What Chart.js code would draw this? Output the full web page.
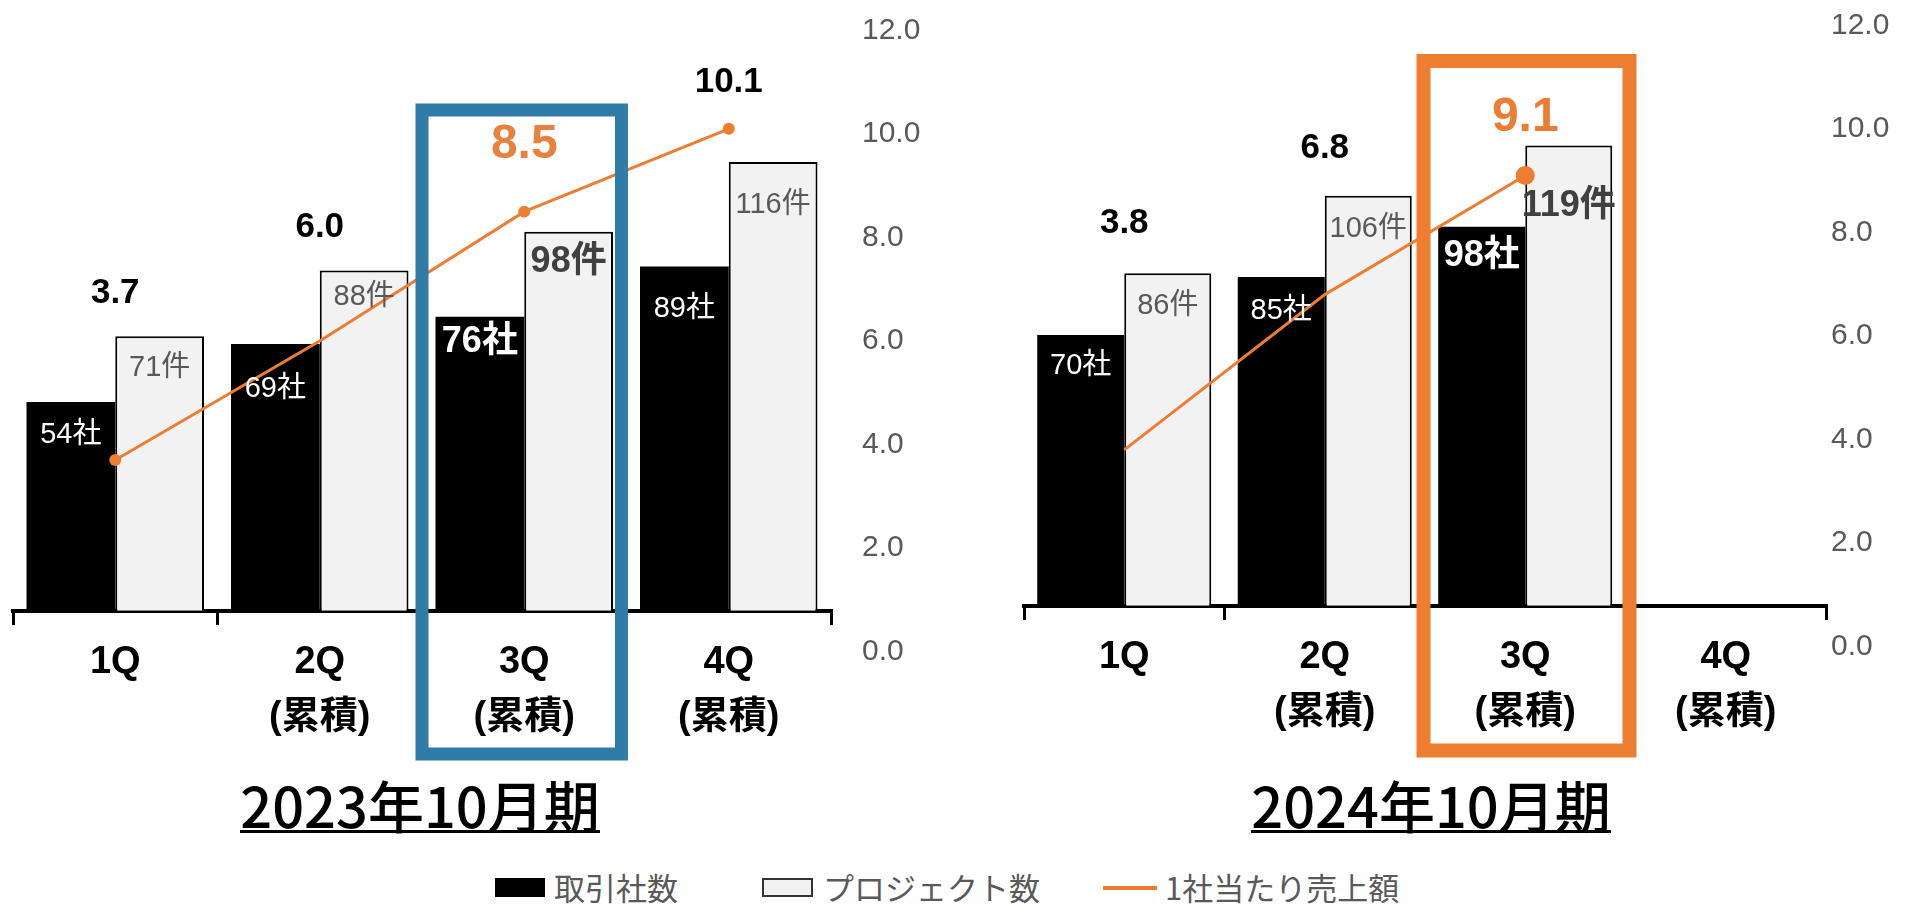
<!DOCTYPE html>
<html lang="ja">
<head>
<meta charset="utf-8">
<title>取引社数・プロジェクト数・1社当たり売上額</title>
<script src="https://cdn.jsdelivr.net/npm/chart.js@4.4.1/dist/chart.umd.min.js"></script>
<style>
    html, body { margin: 0; padding: 0; background: #fff; }
    body { width: 1916px; height: 905px; position: relative; overflow: hidden;
           font-family: "Noto Sans CJK JP", "Liberation Sans", sans-serif; }
    canvas { position: absolute; top: 0; }
    #chart2023 { left: 0; }
    #chart2024 { left: 960px; }
    .period { position: absolute; top: 776px; width: 500px; text-align: center;
              font-size: 56px; font-weight: 500; line-height: 56px; color: #000; }
    .period span { display: inline-block; position: relative; }
    .period span::after { content: ''; position: absolute; left: 0; right: 0; top: 54px; height: 3px; background: #000; }
    .swatch { position: absolute; box-sizing: border-box; }
    .legend-text { position: absolute; top: 871px; font-size: 31px; line-height: 31px; color: #595959; white-space: nowrap; }
</style>
</head>
<body>
<canvas id="chart2023" width="960" height="790"></canvas>
<canvas id="chart2024" width="956" height="790"></canvas>

<div class="period" style="left:170px"><span>2023年10月期</span></div>
<div class="period" style="left:1181px"><span>2024年10月期</span></div>

<div class="swatch" style="left:495px; top:878px; width:50px; height:19px; background:#000"></div>
<div class="legend-text" style="left:554px">取引社数</div>
<div class="swatch" style="left:762px; top:878px; width:51px; height:19px; background:#F2F2F2; border:2px solid #333"></div>
<div class="legend-text" style="left:823px">プロジェクト数</div>
<div class="swatch" style="left:1103px; top:886px; width:54px; height:4px; background:#ED7D31"></div>
<div class="legend-text" style="left:1165px">1社当たり売上額</div>

<script>
const quarterLabels = [['1Q'], ['2Q', '(累積)'], ['3Q', '(累積)'], ['4Q', '(累積)']];

const companies2023 = [54, 69, 76, 89];
const projects2023 = [71, 88, 98, 116];
const salesPerCompany2023 = [3.7, 6.0, 8.5, 10.1];

const companies2024 = [70, 85, 98, null];
const projects2024 = [86, 106, 119, null];
const salesPerCompany2024 = [3.8, 6.8, 9.1, null];

const ORANGE = '#ED7D31';
const FONT = '"Liberation Sans", "Noto Sans CJK JP", sans-serif';

Chart.defaults.font.family = FONT;

// text placement tweaks in px (below bar top / above project bar top)
const tweak2023 = { black: [33, 45, 25, 42], gray: [32, 27, 30, 43], line: [43, 43, 87, 80] };
const tweak2024 = { black: [31, 34, 29, 0], gray: [33, 33, 61, 0], line: [50, 47, 28, 0] };

function labelPlugin(cfg) {
    return {
        id: 'valueLabels',
        afterDatasetsDraw(chart) {
            const ctx = chart.ctx;
            const xScale = chart.scales.x;
            const blackBars = chart.getDatasetMeta(1).data;
            const grayBars = chart.getDatasetMeta(2).data;
            ctx.save();
            ctx.textAlign = 'center';
            ctx.textBaseline = 'middle';
            cfg.companies.forEach((v, i) => {
                if (v == null) return;
                const hi = i === cfg.highlight;
                const b = blackBars[i];
                const g = grayBars[i];

                ctx.fillStyle = '#fff';
                ctx.font = hi ? `bold 36px ${FONT}` : `29px ${FONT}`;
                ctx.fillText(v + '社', b.x, b.y + cfg.tweak.black[i]);

                ctx.fillStyle = hi ? '#404040' : '#595959';
                ctx.font = hi ? `bold 36px ${FONT}` : `29px ${FONT}`;
                ctx.fillText(cfg.projects[i] + '件', g.x, g.y + cfg.tweak.gray[i]);

                ctx.fillStyle = hi ? cfg.accent : '#000';
                ctx.font = hi ? `bold 48px ${FONT}` : `bold 35px ${FONT}`;
                ctx.fillText(cfg.sales[i].toFixed(1), xScale.getPixelForValue(i), g.y - cfg.tweak.line[i]);
            });
            ctx.restore();
        }
    };
}

function boxPlugin(cfg) {
    return {
        id: 'highlightBox',
        afterDraw(chart) {
            const ctx = chart.ctx;
            const xScale = chart.scales.x;
            const area = chart.chartArea;
            const half = (xScale.getPixelForValue(1) - xScale.getPixelForValue(0)) / 2;
            const cx = xScale.getPixelForValue(cfg.highlight);
            const left = cx - half + cfg.box.dx0;
            const right = cx + half + cfg.box.dx1;
            const top = area.top + cfg.box.top;
            const bottom = area.bottom + cfg.box.bottom;
            ctx.save();
            ctx.strokeStyle = cfg.box.color;
            ctx.lineWidth = cfg.box.width;
            ctx.strokeRect(left, top, right - left, bottom - top);
            ctx.restore();
        }
    };
}

function makeChart(canvasId, cfg) {
    const ctx = document.getElementById(canvasId).getContext('2d');
    return new Chart(ctx, {
        type: 'bar',
        data: {
            labels: quarterLabels,
            datasets: [
                {
                    type: 'line',
                    label: '1社当たり売上額',
                    data: cfg.sales,
                    yAxisID: 'y1',
                    borderColor: ORANGE,
                    backgroundColor: ORANGE,
                    borderWidth: 3,
                    pointRadius: cfg.pointRadius,
                    pointBorderWidth: 0,
                    tension: 0,
                    order: 0
                },
                {
                    label: '取引社数',
                    data: cfg.companies,
                    backgroundColor: '#000',
                    borderWidth: 0,
                    yAxisID: 'y',
                    order: 1
                },
                {
                    label: 'プロジェクト数',
                    data: cfg.projects,
                    backgroundColor: '#F2F2F2',
                    borderColor: '#000',
                    borderWidth: 2,
                    yAxisID: 'y',
                    order: 1
                }
            ]
        },
        options: {
            responsive: false,
            maintainAspectRatio: false,
            animation: false,
            layout: { padding: cfg.padding },
            datasets: { bar: { categoryPercentage: 0.868, barPercentage: 1 } },
            scales: {
                x: {
                    position: { y: 0 },
                    afterFit: s => { s.height = 0; },
                    grid: {
                        display: true,
                        drawOnChartArea: false,
                        drawTicks: true,
                        tickLength: 12,
                        offset: true,
                        color: '#000',
                        lineWidth: 3
                    },
                    border: { display: true, color: '#000', width: 4 },
                    ticks: {
                        color: '#000',
                        font: { size: 38, weight: 'bold', lineHeight: 1.45 },
                        padding: 12,
                        maxRotation: 0,
                        autoSkip: false
                    }
                },
                y: { display: false, min: -10.5, max: 150 },
                y1: {
                    position: 'right',
                    min: 0,
                    max: 12,
                    afterFit: s => {
                        s.width = cfg.axisWidth;
                        s.paddingTop = 0;
                        s.paddingBottom = 0;
                    },
                    grid: { display: false, drawTicks: false },
                    border: { display: false },
                    ticks: {
                        stepSize: 2,
                        padding: cfg.tickGap,
                        color: '#595959',
                        font: { size: 30 },
                        callback: v => v.toFixed(1)
                    }
                }
            },
            plugins: {
                legend: { display: false },
                tooltip: { enabled: false }
            }
        },
        plugins: [labelPlugin(cfg), boxPlugin(cfg)]
    });
}

document.addEventListener('DOMContentLoaded', function() {
    makeChart('chart2023', {
        companies: companies2023,
        projects: projects2023,
        sales: salesPerCompany2023,
        pointRadius: [6, 0, 6, 6],
        highlight: 2,
        accent: '#E8803E',
        tweak: tweak2023,
        padding: { left: 13, top: 30.5, right: 0, bottom: 138.5 },
        axisWidth: 129,
        tickGap: 31,
        box: { dx0: 0, dx1: -5, top: 79.5, bottom: 102.5, color: '#2F7CA8', width: 13 }
    });

    makeChart('chart2024', {
        companies: companies2024,
        projects: projects2024,
        sales: salesPerCompany2024,
        pointRadius: [0, 0, 9.5, 0],
        highlight: 2,
        accent: ORANGE,
        tweak: tweak2024,
        padding: { left: 64, top: 25.5, right: 0, bottom: 143.5 },
        axisWidth: 90,
        tickGap: 5,
        box: { dx0: -1.5, dx1: 4, top: 35.5, bottom: 104, color: ORANGE, width: 14 }
    });
});
</script>
</body>
</html>
